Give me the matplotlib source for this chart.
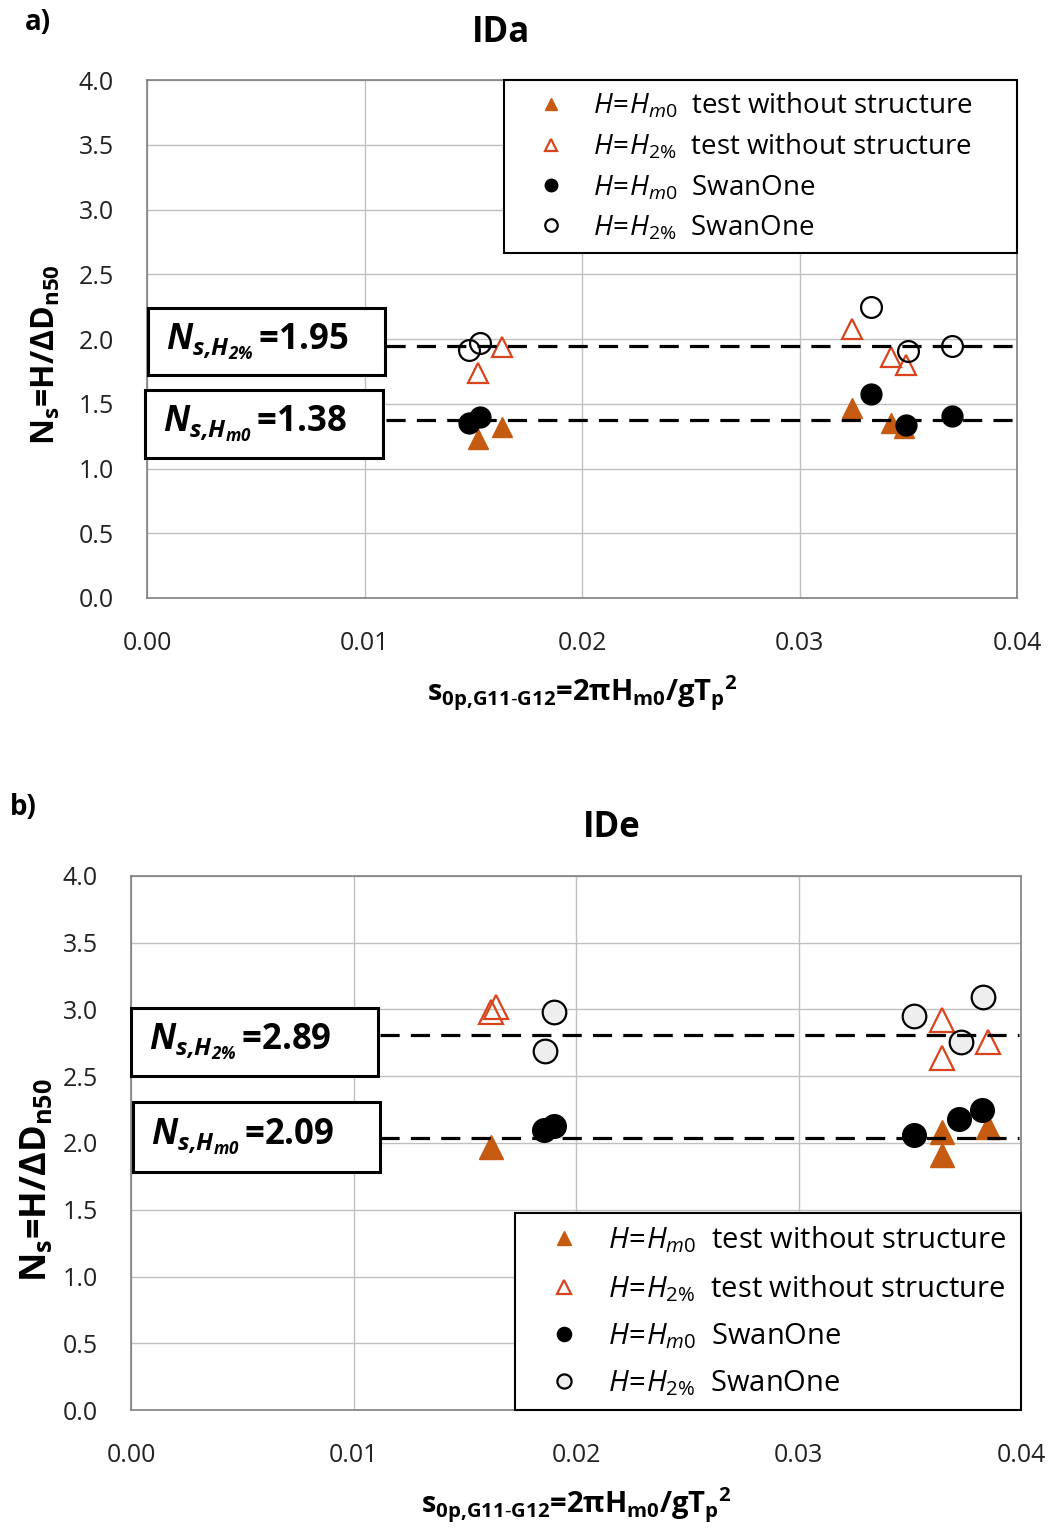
import matplotlib.pyplot as plt
from matplotlib.patches import Rectangle

plt.rcParams['font.family'] = ['Open Sans', 'DejaVu Sans']
plt.rcParams['mathtext.fontset'] = 'custom'
plt.rcParams['mathtext.rm'] = 'Open Sans'
plt.rcParams['mathtext.it'] = 'Open Sans:italic'
plt.rcParams['mathtext.bf'] = 'Open Sans:bold'
plt.rcParams['mathtext.bfit'] = 'Open Sans:italic:bold'

# ---- IDa data ----
a_tri_filled_x = [0.0152, 0.0163, 0.0324, 0.0342, 0.0348]
a_tri_filled_y = [1.23, 1.32, 1.47, 1.35, 1.31]
a_tri_open_x = [0.0152, 0.0163, 0.0324, 0.0342, 0.0349]
a_tri_open_y = [1.74, 1.94, 2.08, 1.86, 1.80]
a_circ_filled_x = [0.0148, 0.0153, 0.0333, 0.0349, 0.0370]
a_circ_filled_y = [1.35, 1.40, 1.575, 1.335, 1.405]
a_circ_open_x = [0.0148, 0.0153, 0.0333, 0.0350, 0.0370]
a_circ_open_y = [1.915, 1.97, 2.25, 1.91, 1.95]
a_lines = [1.95, 1.375]
a_labels = ['1.95', '1.38']

# ---- IDe data ----
e_tri_filled_x = [0.0162, 0.03645, 0.03645, 0.0385]
e_tri_filled_y = [1.97, 2.08, 1.91, 2.12]
e_tri_open_x = [0.0162, 0.0164, 0.03645, 0.03645, 0.0385]
e_tri_open_y = [2.98, 3.02, 2.92, 2.64, 2.76]
e_circ_filled_x = [0.01856, 0.0190, 0.0352, 0.0372, 0.03825]
e_circ_filled_y = [2.10, 2.13, 2.06, 2.18, 2.25]
e_circ_open_x = [0.0190, 0.0186, 0.0352, 0.0373, 0.0383]
e_circ_open_y = [2.98, 2.69, 2.95, 2.76, 3.09]
e_lines = [2.81, 2.04]
e_labels = ['2.89', '2.09']

orange = '#C55A11'
red = '#D9441C'

leg_labels = [r'$H\!=\!H_{m0}$  test without structure',
              r'$H\!=\!H_{2\%}$  test without structure',
              r'$H\!=\!H_{m0}$  SwanOne',
              r'$H\!=\!H_{2\%}$  SwanOne']

xlab = (r'$\mathbf{s_{0p{,}G11\text{-}G12}}$=2πH$_{\mathbf{m0}}$'
        r'/gT$_{\mathbf{p}}$$^{\mathbf{2}}$')
ylab = r'$\mathbf{N_s}$=H/ΔD$_{\mathbf{n50}}$'

fig = plt.figure(figsize=(10.54, 15.4), dpi=100)
ax1 = fig.add_axes([0.1395, 0.6117, 0.8254, 0.3363])
ax2 = fig.add_axes([0.1243, 0.0844, 0.8444, 0.3468])


def panel(ax, d, ms, circ_fill, lines, line_x0, leg_loc, leg_box, leg_fs,
          leg_space, ylab_fs, ylab_xy):
    tfx, tfy, tox, toy, cfx, cfy, cox, coy = d
    h1, = ax.plot(tfx, tfy, '^', ms=ms, color=orange, mec=orange, zorder=3)
    h2, = ax.plot(tox, toy, '^', ms=ms, mfc='none', mec=red, mew=1.6, zorder=3)
    h3, = ax.plot(cfx, cfy, 'o', ms=ms, color='black', zorder=4)
    h4, = ax.plot(cox, coy, 'o', ms=ms, mfc=circ_fill, mec='black', mew=1.6, zorder=4)
    ax.hlines(lines, line_x0, 0.0399, colors='black', lw=2.3,
              linestyles=(0, (6, 3.5)), zorder=5)
    ax.set_xlim(0, 0.04)
    ax.set_ylim(0, 4)
    ax.set_xticks([0, 0.01, 0.02, 0.03, 0.04])
    ax.set_xticklabels(['0.00', '0.01', '0.02', '0.03', '0.04'])
    ax.set_yticks([i * 0.5 for i in range(9)])
    ax.set_yticklabels(['%.1f' % (i * 0.5) for i in range(9)])
    ax.tick_params(axis='x', length=0, labelsize=18, pad=24, colors='#222222')
    ax.tick_params(axis='y', length=0, labelsize=18, pad=24, colors='#222222')
    ax.grid(True, color='#c0c0c0', lw=1)
    ax.set_axisbelow(True)
    for s in ax.spines.values():
        s.set_color('#808080')
        s.set_linewidth(1.2)
    ax.set_xlabel(xlab, fontsize=21, fontweight='bold', labelpad=12)
    ax.set_ylabel(ylab, fontsize=ylab_fs, fontweight='bold')
    ax.yaxis.set_label_coords(*ylab_xy)
    leg = ax.legend([h1, h2, h3, h4], leg_labels, loc=leg_loc,
                    bbox_to_anchor=leg_box, mode='expand', fontsize=leg_fs,
                    markerscale=0.6, borderaxespad=0, fancybox=False,
                    framealpha=1, edgecolor='black', labelspacing=leg_space,
                    handletextpad=0.2, borderpad=0.4, handlelength=2.6)
    leg.get_frame().set_linewidth(1.5)
    leg.set_zorder(6)


panel(ax1, (a_tri_filled_x, a_tri_filled_y, a_tri_open_x, a_tri_open_y,
            a_circ_filled_x, a_circ_filled_y, a_circ_open_x, a_circ_open_y),
      15, 'none', a_lines, 0.011, 'upper left', (0.41, 1.0, 0.59, 0.0), 20,
      0.42, 23, (-0.097, 0.469))
panel(ax2, (e_tri_filled_x, e_tri_filled_y, e_tri_open_x, e_tri_open_y,
            e_circ_filled_x, e_circ_filled_y, e_circ_open_x, e_circ_open_y),
      17, '#eeeeee', e_lines, 0.0112, 'lower left', (0.431, 0.0, 0.569, 0.0),
      21, 0.6, 26, (-0.085, 0.43))

W, H = 1054, 1540


def box(x0, y0, x1, y1, text):
    fig.add_artist(Rectangle((x0 / W, 1 - y1 / H), (x1 - x0) / W, (y1 - y0) / H,
                             transform=fig.transFigure, fill=True, fc='white',
                             ec='black', lw=2.2, zorder=10))
    fig.text((x0 + 18) / W, 1 - (y0 + y1) / 2 / H, text, fontsize=25,
             fontweight='bold', va='center', ha='left', zorder=11)


box(148, 308, 385, 375, r'$\mathbfit{N_{s{,}H_{2\%}}}\,$=' + a_labels[0])
box(145, 390, 383, 458, r'$\mathbfit{N_{s{,}H_{m0}}}\,$=' + a_labels[1])
box(131, 1008, 378, 1076, r'$\mathbfit{N_{s{,}H_{2\%}}}\,$=' + e_labels[0])
box(133, 1102, 380, 1172, r'$\mathbfit{N_{s{,}H_{m0}}}\,$=' + e_labels[1])

fig.text(501 / W, 1 - 33 / H, 'IDa', fontsize=25, fontweight='bold',
         ha='center', va='center')
fig.text(612 / W, 1 - 828 / H, 'IDe', fontsize=25, fontweight='bold',
         ha='center', va='center')
fig.text(25 / W, 1 - 22 / H, 'a)', fontsize=20, fontweight='bold', va='center')
fig.text(10 / W, 1 - 808 / H, 'b)', fontsize=20, fontweight='bold', va='center')

fig.savefig('out.png', dpi=100)
